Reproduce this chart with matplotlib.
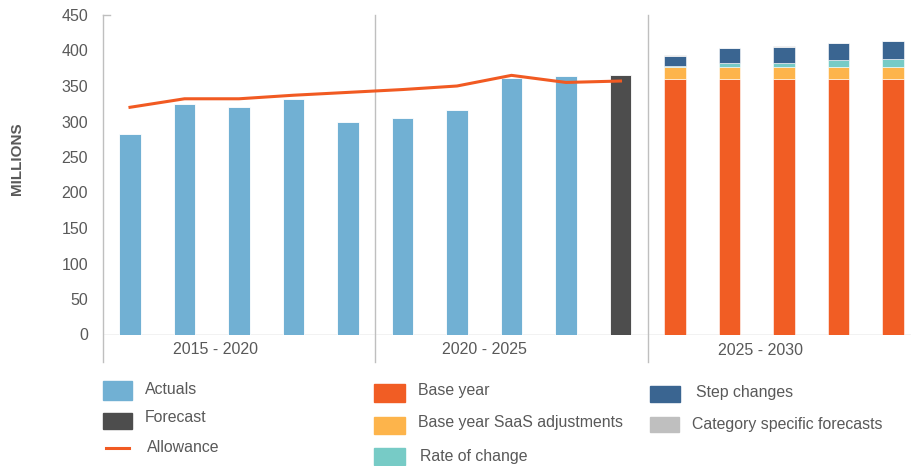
import matplotlib
matplotlib.use("Agg")
import matplotlib.pyplot as plt
from matplotlib.patches import Rectangle
from matplotlib.lines import Line2D
import matplotlib.transforms as mtransforms

plt.rcParams['font.family'] = ['Liberation Sans', 'DejaVu Sans']

# ---- data ----
groups = ["2015 - 2020", "2020 - 2025", "2025 - 2030"]
actuals = [282, 324, 320, 331, 299, 305, 316, 361, 364]
forecast = [366]
allowance = [320, 332, 332, 337, 341, 345, 350, 365, 355, 357]
base_year = [360, 360, 360, 360, 360]
saas_adj = [17, 17, 17, 17, 17]
rate_change = [1, 5, 6, 9, 11]
step_changes = [14, 21, 22, 24, 25]
category_specific = [1, 1, 1, 1, 1]
yticks = [0, 50, 100, 150, 200, 250, 300, 350, 400, 450]

c_act = '#71b0d3'
c_fc = '#4d4d4d'
c_allow = '#f15a22'
c_base = '#f15d24'
c_saas = '#fdb44b'
c_rate = '#77cbc6'
c_step = '#3a6591'
c_cat = '#bfbfbf'
c_txt = '#595959'
c_line = '#bfbfbf'

W, H = 911, 466
fig = plt.figure(figsize=(W / 100, H / 100), dpi=100)
ax = fig.add_axes([102.75 / W, (H - 334.5) / H, 817.5 / W, 319.5 / H])

bw = 0.4
x_act = list(range(len(actuals)))
x_fc = [len(actuals) + i for i in range(len(forecast))]
x_fut = [10 + i for i in range(len(base_year))]

ax.bar(x_act, actuals, width=bw, color=c_act, edgecolor='white', linewidth=0.6, zorder=2)
ax.bar(x_fc, forecast, width=bw, color=c_fc, edgecolor='white', linewidth=0.6, zorder=2)

bottom = [0] * len(base_year)
for vals, col in [(base_year, c_base), (saas_adj, c_saas), (rate_change, c_rate),
                  (step_changes, c_step), (category_specific, c_cat)]:
    ax.bar(x_fut, vals, width=bw, bottom=bottom, color=col, edgecolor='white',
           linewidth=0.4, zorder=2)
    bottom = [b + v for b, v in zip(bottom, vals)]

ax.plot(range(len(allowance)), allowance, color=c_allow, linewidth=2.2, zorder=3)

ax.set_xlim(-0.5, 14.5)
ax.set_ylim(0, 450)
ax.set_yticks(yticks)
ax.set_xticks([])
ax.tick_params(axis='y', length=0, pad=10.5, labelsize=11.5, labelcolor=c_txt)
for s in ['top', 'right', 'bottom', 'left']:
    ax.spines[s].set_visible(False)

ext = 27 / 319.5
for xv in [-0.5, 4.5, 9.5]:
    ax.axvline(xv, ymin=-ext, ymax=1, color=c_line, linewidth=1.0, clip_on=False, zorder=1)
ax.axhline(0, color=c_line, linewidth=1.0, zorder=1)
ax.plot([-0.5, -0.36], [450, 450], color=c_line, linewidth=1.0, clip_on=False)

trans = mtransforms.blended_transform_factory(ax.transData, ax.transAxes)
label_x = [1.56, 6.51, 11.56]
label_y = [-15 / 319.5, -15 / 319.5, -16 / 319.5]
for g, lx, ly in zip(groups, label_x, label_y):
    ax.text(lx, ly, g, transform=trans, ha='center', va='center',
            fontsize=11.5, color=c_txt)

fig.text(17 / W, 1 - 159 / H, 'MILLIONS', rotation=90, ha='center', va='center',
         fontsize=11, fontweight='bold', color=c_txt)

# legend
def patch(x0, x1, y0, y1, col):
    fig.patches.append(Rectangle((x0 / W, 1 - y1 / H), (x1 - x0) / W, (y1 - y0) / H,
                                 transform=fig.transFigure, color=col))

def label(x, y, s):
    fig.text(x / W, 1 - y / H, s, ha='left', va='center', fontsize=11.4, color=c_txt)

patch(103, 132, 381, 400, c_act); label(145, 390, 'Actuals')
patch(103, 132, 413, 429, c_fc); label(145, 418, 'Forecast')
fig.lines.append(Line2D([106 / W, 129 / W], [1 - 447.5 / H, 1 - 447.5 / H],
                        transform=fig.transFigure, color=c_allow, linewidth=2.2))
label(147, 447, 'Allowance')
patch(374, 405, 384, 402, c_base); label(418, 390, 'Base year')
patch(374, 405, 417, 434, c_saas); label(418, 423, 'Base year SaaS adjustments')
patch(374, 405, 448, 465, c_rate); label(420, 456, 'Rate of change')
patch(650, 680, 386, 402, c_step); label(696, 393, 'Step changes')
patch(650, 679, 417, 432, c_cat); label(692, 424, 'Category specific forecasts')

fig.savefig('out.png', dpi=100)
